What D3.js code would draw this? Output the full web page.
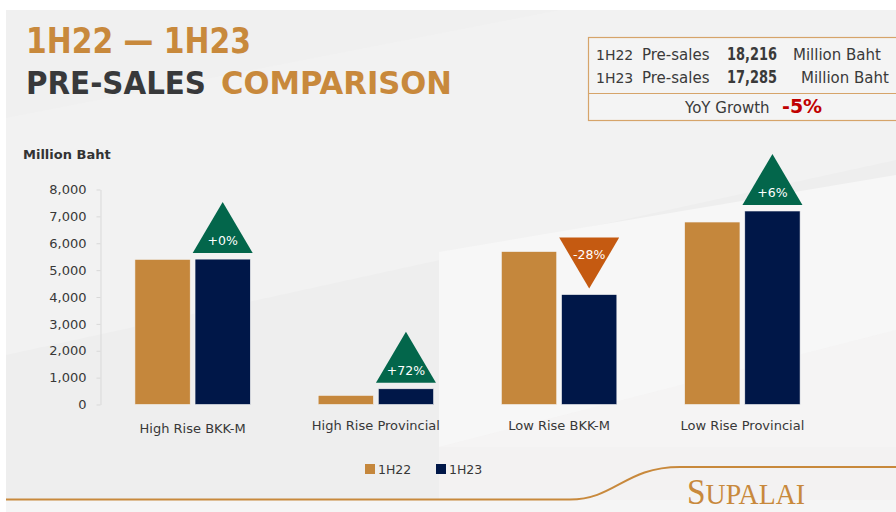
<!DOCTYPE html>
<html>
<head>
<meta charset="utf-8">
<script src="https://cdn.jsdelivr.net/npm/d3@7/dist/d3.min.js"></script>
<style>
  body { margin: 0; background: #fff; }
  svg { display: block; }
</style>
</head>
<body>
<div id="chart"></div>
<script>
// data
var categories = ["High Rise BKK-M", "High Rise Provincial", "Low Rise BKK-M", "Low Rise Provincial"];
var seriesNames = ["1H22", "1H23"];
var presales1H22 = [5400, 340, 5690, 6790];
var presales1H23 = [5410, 585, 4090, 7200];
var growthLabels = ["+0%", "+72%", "-28%", "+6%"];
var yTicks = [0, 1000, 2000, 3000, 4000, 5000, 6000, 7000, 8000];
var totalLabels = ["18,216", "17,285"];
var yoyGrowth = "-5%";

var orange = "#C5873C", navy = "#001748", green = "#03664B", burnt = "#C55A11";
var textColor = "#404040";
var font = "'DejaVu Sans', sans-serif";

var width = 896, height = 512;
var svg = d3.select("#chart").append("svg")
    .attr("width", width)
    .attr("height", height);

// slide background
svg.append("rect").attr("x", 6).attr("y", 10).attr("width", 890).attr("height", 502).attr("fill", "#EEEEEE");
svg.append("polygon").attr("points", "6,10 896,10 896,160 6,355").attr("fill", "#F2F2F2");
svg.append("polygon").attr("points", "6,10 560,10 6,118").attr("fill", "#F0F0F0");
svg.append("polygon").attr("points", "439,252 896,175 896,447 439,447").attr("fill", "#F7F7F7");
svg.append("polygon").attr("points", "439,447 896,330 896,512 439,512").attr("fill", "#F4F3F2").attr("opacity", 0.8);
svg.append("rect").attr("x", 6).attr("y", 500).attr("width", 890).attr("height", 12).attr("fill", "#F5F5F5");

// title
svg.append("text")
    .attr("x", 26).attr("y", 53)
    .attr("textLength", 225).attr("lengthAdjust", "spacingAndGlyphs")
    .style("font-family", font).style("font-weight", "bold").style("font-size", "36px")
    .attr("fill", "#C8893C")
    .text("1H22 \u2014 1H23");
svg.append("text")
    .attr("x", 26).attr("y", 94)
    .attr("textLength", 180).attr("lengthAdjust", "spacingAndGlyphs")
    .style("font-family", font).style("font-weight", "bold").style("font-size", "32px")
    .attr("fill", "#38393B")
    .text("PRE-SALES");
svg.append("text")
    .attr("x", 221).attr("y", 94)
    .attr("textLength", 231).attr("lengthAdjust", "spacingAndGlyphs")
    .style("font-family", font).style("font-weight", "bold").style("font-size", "32px")
    .attr("fill", "#C8893C")
    .text("COMPARISON");

// summary box
var box = svg.append("g");
box.append("rect").attr("x", 588.5).attr("y", 37.5).attr("width", 320).attr("height", 83)
    .attr("fill", "#F4F4F4").attr("stroke", "#D6A46A").attr("stroke-width", 1.2);
box.append("line").attr("x1", 588.5).attr("x2", 896).attr("y1", 93.5).attr("y2", 93.5)
    .attr("stroke", "#D6A46A").attr("stroke-width", 1);

var rowY = [60, 83];
var bahtX = [793, 801];
seriesNames.forEach(function (s, i) {
    box.append("text").attr("x", 596).attr("y", rowY[i])
        .style("font-family", font).style("font-size", "14px").attr("fill", "#3a3a3a").text(s);
    box.append("text").attr("x", 642).attr("y", rowY[i])
        .style("font-family", font).style("font-size", "15px").attr("fill", "#3a3a3a").text("Pre-sales");
    box.append("text").attr("x", 727).attr("y", rowY[i])
        .attr("textLength", 50).attr("lengthAdjust", "spacingAndGlyphs")
        .style("font-family", font).style("font-weight", "bold").style("font-size", "17px")
        .attr("fill", "#3a3a3a").text(totalLabels[i]);
    box.append("text").attr("x", bahtX[i]).attr("y", rowY[i])
        .style("font-family", font).style("font-size", "15px").attr("fill", "#3a3a3a").text("Million Baht");
});
box.append("text").attr("x", 685).attr("y", 112.5)
    .style("font-family", font).style("font-size", "15px").attr("fill", "#3a3a3a").text("YoY Growth");
box.append("text").attr("x", 782).attr("y", 113)
    .style("font-family", font).style("font-weight", "bold").style("font-size", "19px")
    .attr("fill", "#C00000").text(yoyGrowth);

// scales
var x0 = d3.scaleBand().domain(categories).range([101, 834]).paddingInner(0.37).paddingOuter(0.185);
var x1 = d3.scaleBand().domain(seriesNames).range([0, x0.bandwidth()]).paddingInner(0.08);
var y = d3.scaleLinear().domain([0, 8000]).range([404.5, 189.5]);

// y axis
var yAxis = svg.append("g")
    .attr("transform", "translate(100.5,0)")
    .call(d3.axisLeft(y).tickValues(yTicks).tickSize(4).tickSizeOuter(0).tickPadding(10).tickFormat(d3.format(",")));
yAxis.select(".domain").attr("stroke", "#D9D9D9");
yAxis.selectAll(".tick line").attr("stroke", "#D9D9D9");
yAxis.selectAll("text")
    .style("font-family", font).style("font-size", "13px").attr("fill", "#383838");

svg.append("text")
    .attr("x", 23).attr("y", 159)
    .style("font-family", font).style("font-weight", "bold").style("font-size", "13px")
    .attr("fill", "#333")
    .text("Million Baht");

// bars
var rows = categories.map(function (c, i) {
    return { cat: c, values: [presales1H22[i], presales1H23[i]], growth: growthLabels[i] };
});
var groups = svg.selectAll(".group").data(rows).enter().append("g")
    .attr("class", "group")
    .attr("transform", function (d) { return "translate(" + x0(d.cat) + ",0)"; });

groups.selectAll("rect")
    .data(function (d) { return d.values.map(function (v, j) { return { name: seriesNames[j], value: v }; }); })
    .enter().append("rect")
    .attr("x", function (d) { return x1(d.name); })
    .attr("y", function (d) { return y(d.value); })
    .attr("width", x1.bandwidth())
    .attr("height", function (d) { return y(0) - y(d.value); })
    .attr("fill", function (d) { return d.name === "1H22" ? orange : navy; })
    .attr("stroke", "#f4f4f4").attr("stroke-width", 0.6);

// growth triangles above the 1H23 bars
var triW = 60, triH = 51, triGap = 6;
groups.each(function (d) {
    var g = d3.select(this);
    var cx = x1("1H23") + x1.bandwidth() / 2;
    var top = y(d.values[1]);
    var down = d.growth.charAt(0) === "-";
    var base, tip, labelY;
    if (down) {
        tip = top - triGap;
        base = tip - triH;
        labelY = base + 17;
    } else {
        base = top - triGap;
        tip = base - triH;
        labelY = base - 12;
    }
    g.append("path")
        .attr("d", "M" + (cx - triW / 2) + "," + base + "L" + (cx + triW / 2) + "," + base + "L" + cx + "," + tip + "Z")
        .attr("fill", down ? burnt : green);
    g.append("text")
        .attr("x", cx).attr("y", labelY).attr("dy", "0.35em")
        .attr("text-anchor", "middle")
        .style("font-family", font).style("font-size", "12.5px")
        .attr("fill", "#fff")
        .text(d.growth);
});

// category labels
svg.selectAll(".cat-label").data(categories).enter().append("text")
    .attr("class", "cat-label")
    .attr("x", function (d) { return x0(d) + x0.bandwidth() / 2; })
    .attr("y", function (d, i) { return i === 0 ? 433 : 430; })
    .attr("text-anchor", "middle")
    .style("font-family", font).style("font-size", "13px")
    .attr("fill", "#383838")
    .text(function (d) { return d; });

// legend
var legendX = [365, 436];
var legend = svg.selectAll(".legend").data(seriesNames).enter().append("g")
    .attr("class", "legend")
    .attr("transform", function (d, i) { return "translate(" + legendX[i] + ",464)"; });
legend.append("rect").attr("width", 10).attr("height", 10)
    .attr("fill", function (d) { return d === "1H22" ? orange : navy; });
legend.append("text").attr("x", 13).attr("y", 9.5)
    .style("font-family", font).style("font-size", "12.5px")
    .attr("fill", "#383838")
    .text(function (d) { return d; });

// footer swoosh and logo
svg.append("path")
    .attr("d", "M6,499.5 L570,499.5 C615,499.5 625,467 680,467 L896,467")
    .attr("fill", "none").attr("stroke", "#C8893C").attr("stroke-width", 2);

var logo = svg.append("text")
    .attr("x", 687).attr("y", 504)
    .attr("textLength", 118).attr("lengthAdjust", "spacingAndGlyphs")
    .style("font-family", "'Liberation Serif', serif")
    .attr("fill", "#C8893C");
logo.append("tspan").style("font-size", "36px").text("S");
logo.append("tspan").style("font-size", "30px").text("UPALAI");
</script>
</body>
</html>
